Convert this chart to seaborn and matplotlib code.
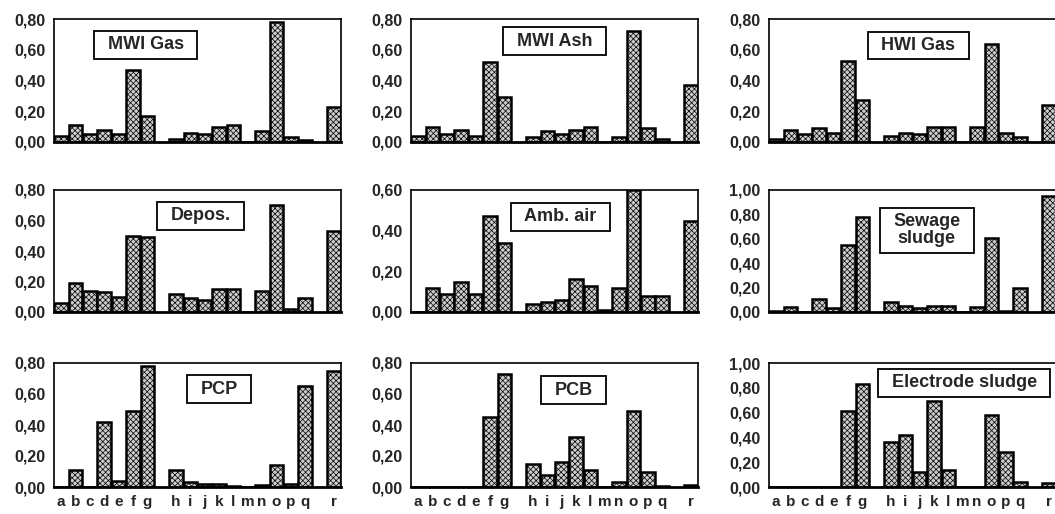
import matplotlib
matplotlib.use('Agg')
import matplotlib.pyplot as plt
from matplotlib.path import Path
import pandas as pd
import seaborn as sns

# categories (two empty slots split the groups)
letters = list('abcdefghijklmnopqr')
slot_order = ['a', 'b', 'c', 'd', 'e', 'f', 'g', ' ',
              'h', 'i', 'j', 'k', 'l', 'm', 'n', 'o', 'p', 'q', '  ', 'r']

titles = ['MWI Gas', 'MWI Ash', 'HWI Gas',
          'Depos.', 'Amb. air', 'Sewage\nsludge',
          'PCP', 'PCB', 'Electrode sludge']

#            a     b     c     d     e     f     g     h     i     j     k     l     m     n     o     p     q     r
mwi_gas   = [0.04, 0.11, 0.05, 0.08, 0.05, 0.47, 0.17, 0.02, 0.06, 0.05, 0.10, 0.11, 0.00, 0.07, 0.78, 0.03, 0.01, 0.23]
mwi_ash   = [0.04, 0.10, 0.05, 0.08, 0.04, 0.52, 0.29, 0.03, 0.07, 0.05, 0.08, 0.10, 0.00, 0.03, 0.72, 0.09, 0.02, 0.37]
hwi_gas   = [0.02, 0.08, 0.05, 0.09, 0.06, 0.53, 0.27, 0.04, 0.06, 0.05, 0.10, 0.10, 0.00, 0.10, 0.64, 0.06, 0.03, 0.24]
depos     = [0.06, 0.19, 0.14, 0.13, 0.10, 0.50, 0.49, 0.12, 0.09, 0.08, 0.15, 0.15, 0.00, 0.14, 0.70, 0.02, 0.09, 0.53]
amb_air   = [0.00, 0.12, 0.09, 0.15, 0.09, 0.47, 0.34, 0.04, 0.05, 0.06, 0.16, 0.13, 0.01, 0.12, 0.60, 0.08, 0.08, 0.45]
sewage    = [0.01, 0.04, 0.00, 0.11, 0.03, 0.55, 0.78, 0.08, 0.05, 0.03, 0.05, 0.05, 0.00, 0.04, 0.61, 0.01, 0.20, 0.95]
pcp       = [0.00, 0.11, 0.00, 0.42, 0.04, 0.49, 0.78, 0.11, 0.03, 0.02, 0.02, 0.005, 0.00, 0.01, 0.14, 0.02, 0.65, 0.75]
pcb       = [0.00, 0.00, 0.00, 0.00, 0.00, 0.45, 0.73, 0.15, 0.08, 0.16, 0.32, 0.11, 0.00, 0.03, 0.49, 0.10, 0.005, 0.01]
electrode = [0.00, 0.00, 0.00, 0.00, 0.00, 0.61, 0.83, 0.36, 0.42, 0.12, 0.69, 0.14, 0.00, 0.00, 0.58, 0.28, 0.04, 0.03]

series = [mwi_gas, mwi_ash, hwi_gas, depos, amb_air, sewage, pcp, pcb, electrode]
y_max = [0.8, 0.8, 0.8, 0.8, 0.6, 1.0, 0.8, 0.8, 1.0]

# label box positions in axes fraction
box_pos = [(0.32, 0.79), (0.50, 0.82), (0.52, 0.785),
           (0.51, 0.79), (0.52, 0.78), (0.55, 0.67),
           (0.575, 0.79), (0.566, 0.78), (0.68, 0.84)]


def wide_box(x0, y0, width, height, mutation_size):
    # rectangle with more padding left/right than top/bottom
    px, py = 0.75 * mutation_size, 0.3 * mutation_size
    x1, y1 = x0 + width + px, y0 + height + py
    x0, y0 = x0 - px, y0 - py
    return Path([(x0, y0), (x1, y0), (x1, y1), (x0, y1), (x0, y0)], closed=True)


sns.set_style('white')
plt.rcParams['font.family'] = ['Liberation Sans', 'DejaVu Sans']
plt.rcParams['hatch.linewidth'] = 0.5

W, H = 1055, 514
fig = plt.figure(figsize=(W / 100, H / 100), dpi=100)

col_left = [54, 411, 769]
row_top = [19, 190, 363]
row_h = [123, 122, 124]
ax_w = 287

for i, (title, vals, ym) in enumerate(zip(titles, series, y_max)):
    r, c = divmod(i, 3)
    ax = fig.add_axes([col_left[c] / W, 1 - (row_top[r] + row_h[r]) / H,
                       ax_w / W, row_h[r] / H])
    df = pd.DataFrame({'cat': letters, 'val': vals})
    sns.barplot(data=df, x='cat', y='val', order=slot_order, ax=ax,
                color='#cccccc', edgecolor='black', linewidth=1.8,
                width=0.94, saturation=1)
    for p in ax.patches:
        p.set_hatch('xxxxxx')
    ax.set_ylim(0, ym)
    ticks = [k * 0.2 for k in range(int(round(ym / 0.2)) + 1)]
    ax.set_yticks(ticks)
    ax.set_yticklabels([f'{t:.2f}'.replace('.', ',') for t in ticks],
                       fontsize=11.5, fontweight='bold')
    ax.tick_params(axis='y', direction='in', length=3, width=1, pad=6)
    ax.set_xlabel('')
    ax.set_ylabel('')
    if r == 2:
        ax.tick_params(axis='x', length=0, pad=6)
        ax.set_xticks(range(len(slot_order)))
        ax.set_xticklabels(slot_order, fontsize=11, fontweight='bold')
    else:
        ax.set_xticks([])
    for s in ax.spines.values():
        s.set_visible(True)
        s.set_color('black')
        s.set_linewidth(1.2)
    ax.spines['bottom'].set_linewidth(2.0)
    bx, by = box_pos[i]
    ax.text(bx, by, title, transform=ax.transAxes, ha='center', va='center',
            fontsize=13, fontweight='bold', linespacing=1.0,
            bbox=dict(boxstyle=wide_box, facecolor='white',
                      edgecolor='black', linewidth=1.3))

fig.savefig('out.png', dpi=100)
